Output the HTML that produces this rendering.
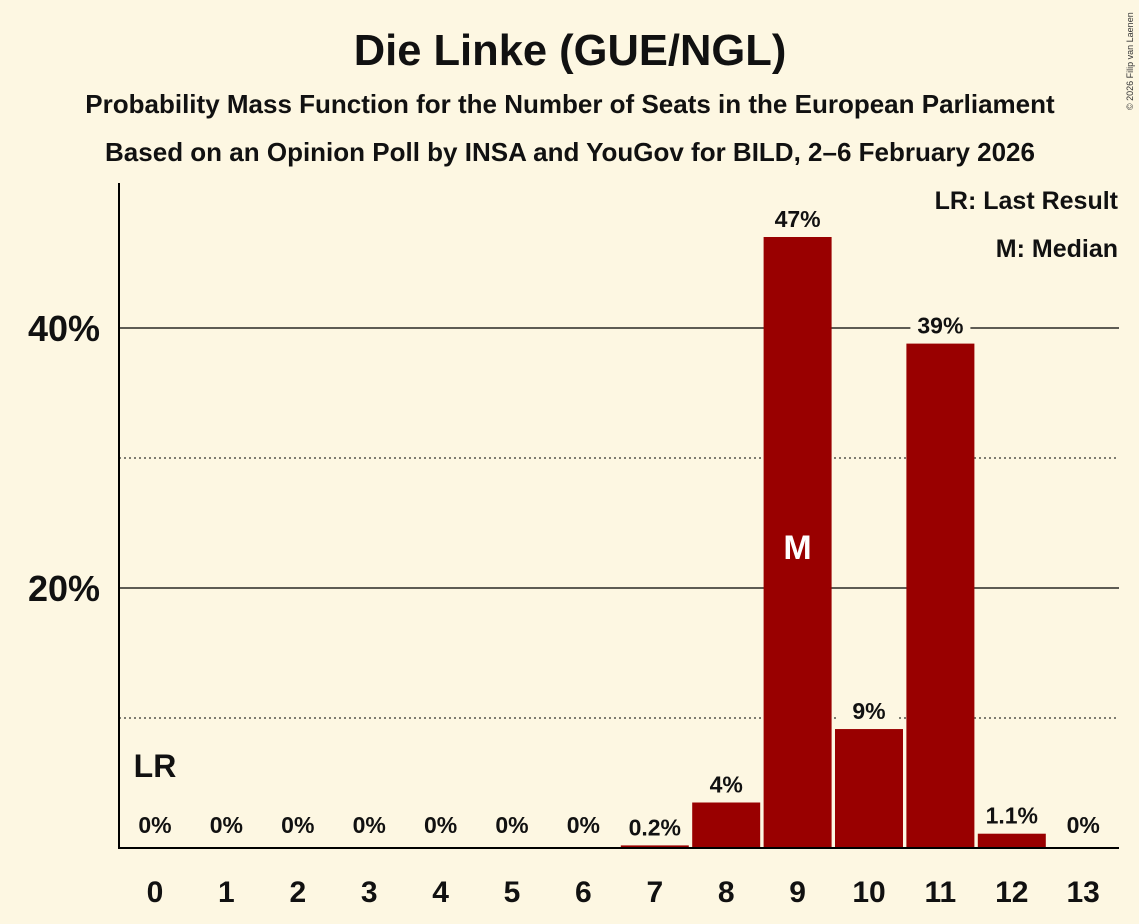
<!DOCTYPE html>
<html><head><meta charset="utf-8"><style>
body{margin:0;background:#fdf7e2;}
svg{display:block;font-family:"Liberation Sans",sans-serif;}
</style></head><body>
<svg id="c" width="1139" height="924">
<rect width="1139" height="924" fill="#fdf7e2"/>
<text x="570" y="65" text-anchor="middle" font-size="43.5" font-weight="bold" fill="#111">Die Linke (GUE/NGL)</text>
<text x="570" y="113" text-anchor="middle" font-size="26" font-weight="bold" fill="#111">Probability Mass Function for the Number of Seats in the European Parliament</text>
<text x="570" y="161" text-anchor="middle" font-size="26" font-weight="bold" fill="#111">Based on an Opinion Poll by INSA and YouGov for BILD, 2–6 February 2026</text>
<text x="1133" y="110" font-size="9" fill="#333" transform="rotate(-90 1133 110)">© 2026 Filip van Laenen</text>
<g id="grid"></g><g id="bars"></g><g id="labels"></g>
<line x1="119" y1="183" x2="119" y2="849" stroke="#000" stroke-width="2"/>
<line x1="118" y1="848" x2="1119" y2="848" stroke="#000" stroke-width="2"/>
<text x="1118" y="209" text-anchor="end" font-size="25" font-weight="bold" fill="#111">LR: Last Result</text>
<text x="1118" y="257" text-anchor="end" font-size="25" font-weight="bold" fill="#111">M: Median</text>
</svg>
<script>
const seats=[0,1,2,3,4,5,6,7,8,9,10,11,12,13];
const probs=[0,0,0,0,0,0,0,0.2,3.5,47,9.15,38.8,1.1,0];
const valueLabels=["0%","0%","0%","0%","0%","0%","0%","0.2%","4%","47%","9%","39%","1.1%","0%"];
const yTicks=[10,20,30,40];
const yTickLabels=["","20%","","40%"];
const medianSeat=9, lastResultSeat=0;
const NS="http://www.w3.org/2000/svg";
const xS=s=>155+s*71.4, yS=v=>848-v*13;
function mk(t,a,p){const e=document.createElementNS(NS,t);for(const k in a)e.setAttribute(k,a[k]);p.appendChild(e);return e;}
const g=document.getElementById('grid'),b=document.getElementById('bars'),l=document.getElementById('labels');
yTicks.forEach((t,i)=>{
 const ln=mk('line',{x1:119,x2:1119,y1:yS(t),y2:yS(t),stroke:'#000','stroke-width':yTickLabels[i]?1.3:1,'stroke-dasharray':yTickLabels[i]?'':'2,3'},g);
 
 
 if(yTickLabels[i]){const tx=mk('text',{x:100,y:yS(t)+13,'text-anchor':'end','font-size':36,'font-weight':'bold',fill:'#111'},l);tx.textContent=yTickLabels[i];
 
 }
});
seats.forEach((s,i)=>{
 const v=probs[i],x=xS(s);
 if(v>0){const r=mk('rect',{x:x-34,y:yS(v),width:68,height:848-yS(v),fill:'#990000'},b);
 
 }
 const ly=v>0?yS(v)-10:833;
 const bg=mk('rect',{x:x-30,y:ly-22,width:60,height:28,fill:'#fdf7e2'},l);
 if(v<=0||v>6)bg.setAttribute('opacity',v>6?1:0);
 
 
 const t=mk('text',{x:x,y:ly,'text-anchor':'middle','font-size':23,'font-weight':'bold',fill:'#111'},l);t.textContent=valueLabels[i];
 
 
 const xt=mk('text',{x:x,y:902,'text-anchor':'middle','font-size':30,'font-weight':'bold',fill:'#111'},l);xt.textContent=s;
 
 
});
const m=mk('text',{x:xS(medianSeat),y:559,'text-anchor':'middle','font-size':34,'font-weight':'bold',fill:'#fff'},l);m.textContent='M';


const lr=mk('text',{x:xS(lastResultSeat),y:777,'text-anchor':'middle','font-size':32,'font-weight':'bold',fill:'#111'},l);lr.textContent='LR';


</script>
</body></html>
